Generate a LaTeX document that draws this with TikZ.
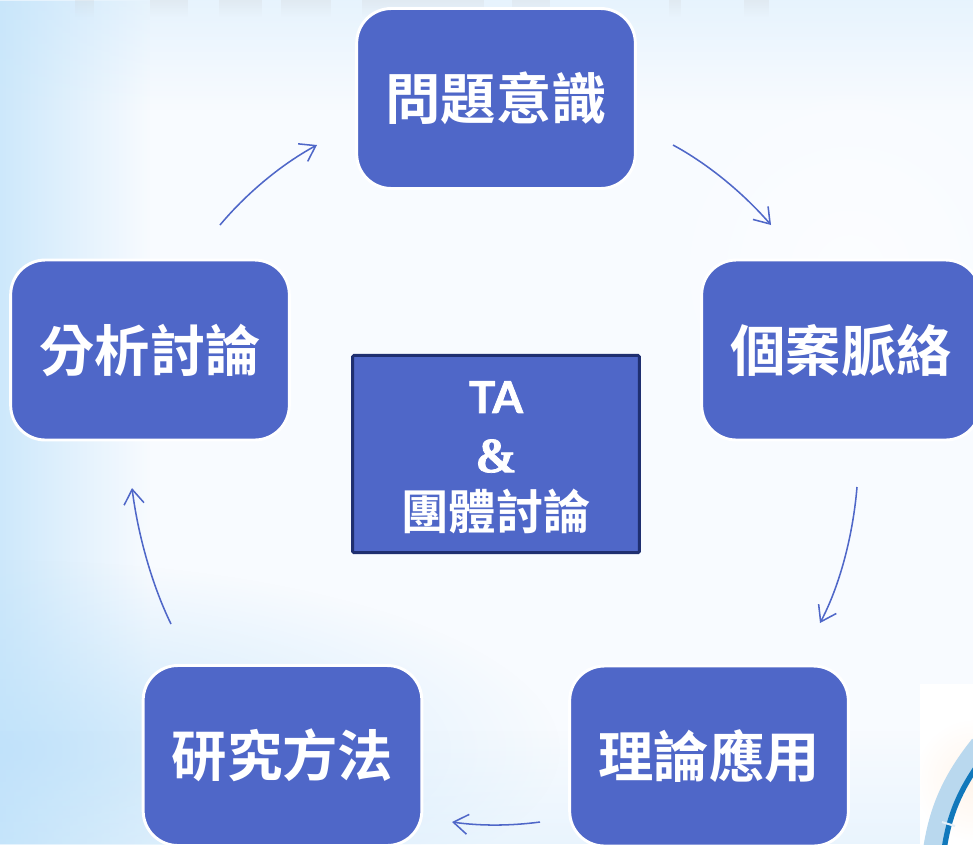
\documentclass[tikz,border=0pt]{standalone}
\usepackage{fontspec}
\newfontfamily\cjk{Noto Sans CJK TC}[BoldFont={* Bold}]
\newfontfamily\latn{Lato}[BoldFeatures={FakeBold=1.6}]
\newfontfamily\amp{Liberation Serif}[BoldFeatures={FakeBold=1.5}]
\usetikzlibrary{arrows.meta,fadings,shadings}
\definecolor{boxblue}{HTML}{4F67C8}
\definecolor{boxdark}{HTML}{1F2F70}
\definecolor{bgbase}{HTML}{F8FBFF}
\definecolor{bgblue}{HTML}{BFE2FA}
\definecolor{ringpale}{HTML}{B9D8EE}
\definecolor{ringdark}{HTML}{1178BB}
\tikzfading[name=softglow,inner color=transparent!0,outer color=transparent!100]
\tikzset{
  stagebox/.style={draw=white,line width=2.2pt,fill=boxblue,rounded corners=26pt,
    minimum width=209pt,minimum height=135pt,inner sep=0pt,text=white,
    font=\cjk\bfseries\fontsize{41.5}{46}\selectfont},
  centrebox/.style={draw=boxdark,line width=2.2pt,fill=boxblue,rounded corners=1pt,
    minimum width=215pt,minimum height=148pt,inner sep=0pt},
  lbl/.style={text=white,inner sep=0pt},
  flow/.style={draw=boxblue,line width=1.15pt,-{Straight Barb[length=11pt,width=15pt,line width=1.15pt]}},
  soft/.style={path fading=softglow}
}
\begin{document}
\begin{tikzpicture}[x=0.75pt,y=-0.75pt]
\useasboundingbox (0,0) rectangle (973,844);
\clip (0,0) rectangle (973,844);
% background
\fill[bgbase] (0,0) rectangle (973,844);
\fill[bgblue,opacity=.75,path fading=east] (0,0) rectangle (150,844);
\fill[bgblue,opacity=.3,path fading=south] (0,0) rectangle (973,110);
\fill[bgblue,opacity=.8,soft] (0,750) ellipse (560 and 190);
\fill[bgblue,opacity=.25,path fading=north] (0,730) rectangle (973,844);
\fill[white,opacity=.6,soft] (850,270) ellipse (210 and 210);
% ghost of the cut-off title
\foreach \gx/\gw in {75/19,150/38,219/43,281/50,362/122,512/38,669/12,744/25}
  \fill[gray!40,opacity=.22,path fading=south] (\gx,0) rectangle +(\gw,17);
% logo corner
\begin{scope}
\clip (920,684) rectangle (973,844);
\fill[white] (920,684) rectangle (973,844);
\fill[orange!8,soft] (975,780) circle (60);
\draw[line width=15pt,color=ringpale] (933,850) .. controls (939,810) and (952,780) .. (980,745);
\draw[line width=4pt,color=ringdark] (944,850) .. controls (949,815) and (960,790) .. (980,762);
\draw[line width=1.5pt,color=ringpale!40] (942,822) -- (955,826);
\end{scope}
% stage boxes
\node[stagebox] (problem) at (496,98.5) {問題意識};
\node[stagebox] (context) at (841,350) {個案脈絡};
\node[stagebox] (theory)  at (709,756) {理論應用};
\node[stagebox] (method)  at (282.5,755.5) {研究方法};
\node[stagebox] (analysis) at (150,350) {分析討論};
% centre box
\node[centrebox] (centre) at (496,454) {};
\node[lbl,font=\latn\bfseries\fontsize{33}{36}\selectfont] (ta) at (496,397) {TA};
\node[lbl,font=\amp\bfseries\fontsize{37}{40}\selectfont] (and) at (496,456) {\&};
\node[lbl,font=\cjk\bfseries\fontsize{35.5}{38}\selectfont] (group) at (496,511) {團體討論};
% connector ends
\coordinate (a1) at (673,145);  \coordinate (a2) at (771,225);
\coordinate (b1) at (857,487);  \coordinate (b2) at (820,623);
\coordinate (c1) at (540,822);  \coordinate (c2) at (452,822);
\coordinate (d1) at (171,624);  \coordinate (d2) at (132,488);
\coordinate (e1) at (220,225);  \coordinate (e2) at (317,145);
\draw[flow] (a1) .. controls (710,165) and (745,195) .. (a2);
\draw[flow] (b1) .. controls (853,535) and (840,585) .. (b2);
\draw[flow] (c1) .. controls (510,826) and (480,826) .. (c2);
\draw[flow] (d1) .. controls (152,585) and (138,535) .. (d2);
\draw[flow] (e1) .. controls (245,195) and (280,165) .. (e2);
\end{tikzpicture}
\end{document}
